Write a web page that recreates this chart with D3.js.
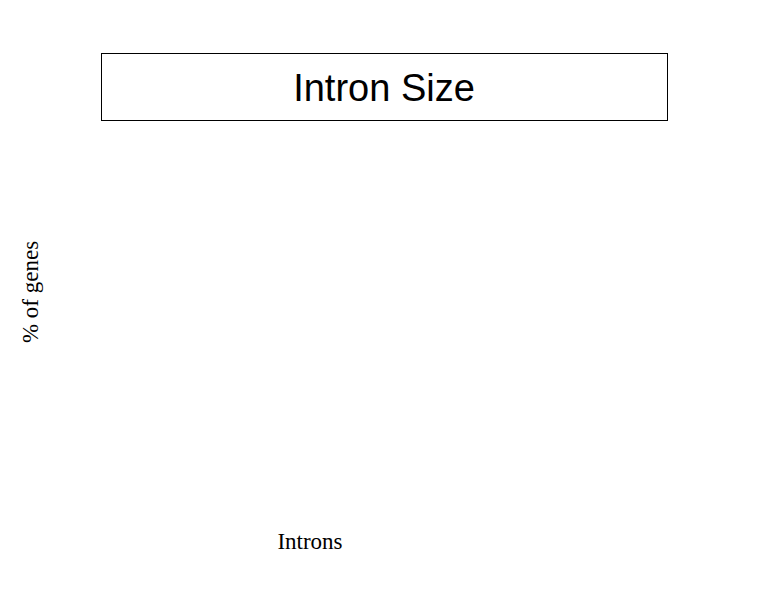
<!DOCTYPE html>
<html>
<head>
<meta charset="utf-8">
<script src="https://cdn.jsdelivr.net/npm/d3@7"></script>
<style>
  body { margin: 0; background: #fff; }
</style>
</head>
<body>
<svg id="chart"></svg>
<script>
// the reference plot has no data drawn, only title and axis titles
const categories = []
const values = []
const title = "Intron Size"
const xTitle = "Introns"
const yTitle = "% of genes"

const width = 763, height = 595
const plot = {left: 101, right: 667, top: 140, bottom: 510}

const svg = d3.select("#chart")
    .attr("width", width)
    .attr("height", height)

const x = d3.scaleBand()
    .domain(categories)
    .range([plot.left, plot.right])
    .padding(0.2)

const y = d3.scaleLinear()
    .domain([0, d3.max(values) || 1])
    .range([plot.bottom, plot.top])

// bars (none in the reference)
svg.append("g").selectAll("rect")
    .data(values)
    .join("rect")
    .attr("x", (d, i) => x(categories[i]))
    .attr("y", d => y(d))
    .attr("width", x.bandwidth())
    .attr("height", d => y(0) - y(d))
    .attr("fill", "#000")

// title box
svg.append("rect")
    .attr("x", 101.5)
    .attr("y", 53.5)
    .attr("width", 566)
    .attr("height", 67)
    .attr("fill", "none")
    .attr("stroke", "#000")
    .attr("stroke-width", 1)

svg.append("text")
    .attr("x", 384)
    .attr("y", 101)
    .attr("text-anchor", "middle")
    .style("font-family", "'Liberation Sans', Arial, sans-serif")
    .style("font-size", "38px")
    .text(title)

svg.append("text")
    .attr("x", 310)
    .attr("y", 549)
    .attr("text-anchor", "middle")
    .style("font-family", "'Liberation Serif', 'Times New Roman', serif")
    .style("font-size", "23px")
    .text(xTitle)

svg.append("text")
    .attr("transform", "translate(38,292) rotate(-90)")
    .attr("text-anchor", "middle")
    .style("font-family", "'Liberation Serif', 'Times New Roman', serif")
    .style("font-size", "23px")
    .text(yTitle)
</script>
</body>
</html>
